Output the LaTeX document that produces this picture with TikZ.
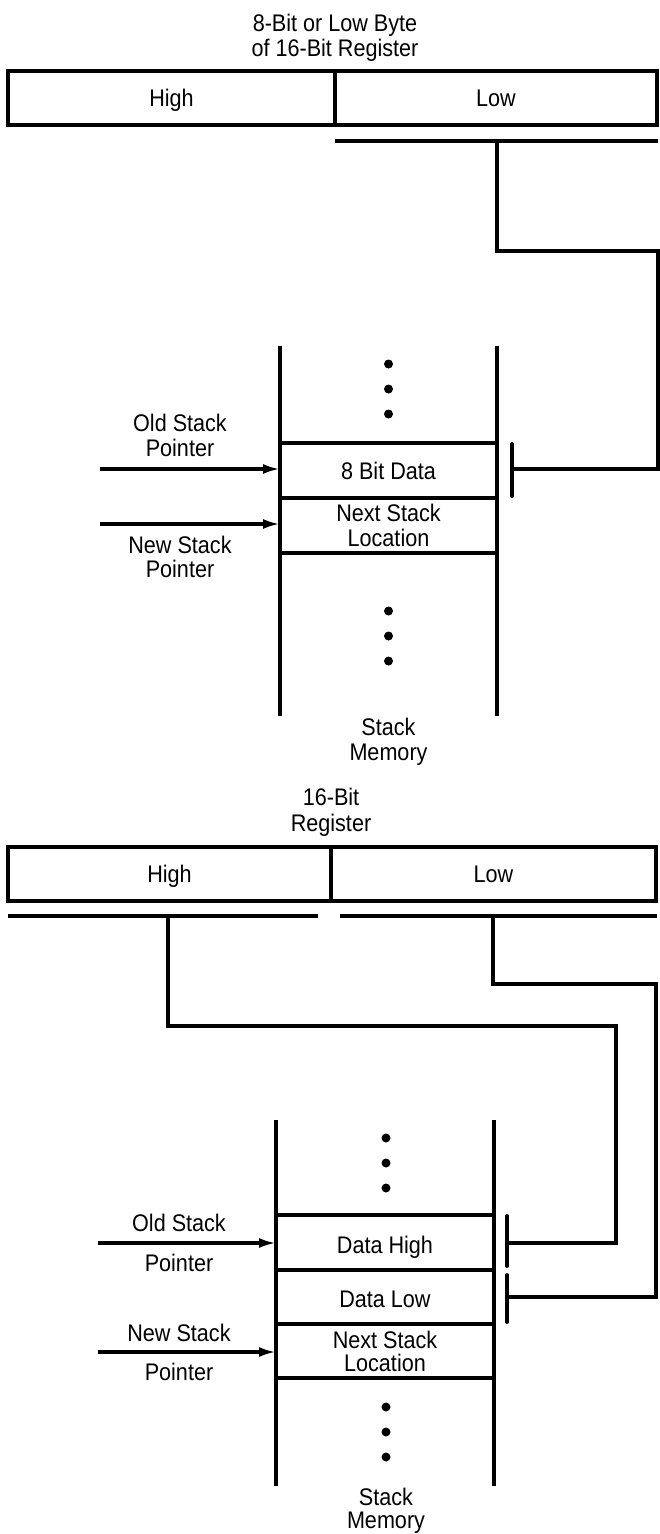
\documentclass[tikz,border=0pt]{standalone}
\usepackage{fontspec}
\setmainfont{Liberation Sans}[FakeStretch=0.9]
\usetikzlibrary{arrows.meta}
\tikzset{
  wire/.style={line width=3.2pt},
  reg/.style={draw, line width=3.2pt, inner sep=0pt, minimum height=54pt,
              text height=17.2pt, text depth=0pt, font=\fontsize{24}{25}\selectfont},
  lbl/.style={anchor=base, inner sep=0pt, font=\fontsize{24}{25}\selectfont},
  ptr/.style={line width=3.2pt, -{Latex[length=17pt,width=10pt]}},
  tbar/.style={line width=3.8pt, line cap=round},
  sdot/.style={circle, fill=black, inner sep=0pt, minimum size=9pt},
}
\begin{document}
\begin{tikzpicture}[x=1pt,y=-1pt]
\useasboundingbox (0,0) rectangle (660,1534);

% ================= upper diagram =================
\node[lbl] (tA1) at (335,31.5) {8-Bit or Low Byte};
\node[lbl] (tA2) at (335,56.5) {of 16-Bit Register};
\node[reg, minimum width=327pt] (hiA) at (171.5,98) {High};
\node[reg, minimum width=322pt] (loA) at (496,98) {Low};

\coordinate (busA1) at (335,141);
\coordinate (busA2) at (658,141);
\draw[wire] (busA1) -- (busA2);
\coordinate (tapA) at (497,141);
\coordinate (barA) at (512,469);
\draw[wire] (tapA) -- (497,251) -- (658,251) -- (658,469) -- (barA);
\draw[tbar] (512,444) -- (512,496);

% stack memory
\draw[wire] (280,346) -- (280,716);
\draw[wire] (497,346) -- (497,716);
\draw[wire] (280,443) -- (497,443);
\draw[wire] (280,498) -- (497,498);
\draw[wire] (280,553) -- (497,553);
\node[sdot] (dA1) at (388.5,364) {};
\node[sdot] (dA2) at (388.5,389) {};
\node[sdot] (dA3) at (388.5,414) {};
\node[sdot] (dA4) at (388.5,611) {};
\node[sdot] (dA5) at (388.5,636) {};
\node[sdot] (dA6) at (388.5,661) {};
\node[lbl] (cA1) at (388.5,479.5) {8 Bit Data};
\node[lbl] (cA2) at (388.5,521.5) {Next Stack};
\node[lbl] (cA3) at (388.5,546.5) {Location};
\node[lbl] (mA1) at (388.5,735.5) {Stack};
\node[lbl] (mA2) at (388.5,760.5) {Memory};

% pointers
\node[lbl] (oA1) at (180,431.5) {Old Stack};
\node[lbl] (oA2) at (180,456.5) {Pointer};
\node[lbl] (nA1) at (180,553.5) {New Stack};
\node[lbl] (nA2) at (180,577.5) {Pointer};
\coordinate (oAs) at (100,469);
\coordinate (oAt) at (280,469);
\coordinate (nAs) at (100,524);
\coordinate (nAt) at (280,524);
\draw[ptr] (oAs) -- (oAt);
\draw[ptr] (nAs) -- (nAt);

% ================= lower diagram =================
\node[lbl] (tB1) at (331,805.5) {16-Bit};
\node[lbl] (tB2) at (331,831.5) {Register};
\node[reg, minimum width=323pt] (hiB) at (169.5,874) {High};
\node[reg, minimum width=325pt] (loB) at (493.5,874) {Low};

\draw[wire] (8,916) -- (318,916);
\draw[wire] (340,916) -- (657,916);
\coordinate (tapH) at (168,916);
\coordinate (barH) at (508,1243);
\draw[wire] (tapH) -- (168,1026) -- (616,1026) -- (616,1243) -- (barH);
\coordinate (tapL) at (493,916);
\coordinate (barL) at (508,1297);
\draw[wire] (tapL) -- (493,984) -- (656,984) -- (656,1297) -- (barL);
\draw[tbar] (507,1216) -- (507,1266);
\draw[tbar] (507,1275) -- (507,1322);

% stack memory
\draw[wire] (276,1120) -- (276,1486);
\draw[wire] (494,1120) -- (494,1486);
\draw[wire] (276,1215) -- (494,1215);
\draw[wire] (276,1270) -- (494,1270);
\draw[wire] (276,1324) -- (494,1324);
\draw[wire] (276,1378) -- (494,1378);
\node[sdot] (dB1) at (386,1138) {};
\node[sdot] (dB2) at (386,1163) {};
\node[sdot] (dB3) at (386,1188) {};
\node[sdot] (dB4) at (386,1407) {};
\node[sdot] (dB5) at (386,1432) {};
\node[sdot] (dB6) at (386,1457) {};
\node[lbl] (cB1) at (385,1253.5) {Data High};
\node[lbl] (cB2) at (385,1307.5) {Data Low};
\node[lbl] (cB3) at (385,1348.5) {Next Stack};
\node[lbl] (cB4) at (385,1371.5) {Location};
\node[lbl] (mB1) at (386,1505.5) {Stack};
\node[lbl] (mB2) at (386,1528.5) {Memory};

% pointers
\node[lbl] (oB1) at (179,1231.5) {Old Stack};
\node[lbl] (oB2) at (179,1271.5) {Pointer};
\node[lbl] (nB1) at (179,1341.5) {New Stack};
\node[lbl] (nB2) at (179,1380.5) {Pointer};
\coordinate (oBs) at (98,1243);
\coordinate (oBt) at (276,1243);
\coordinate (nBs) at (98,1352);
\coordinate (nBt) at (276,1352);
\draw[ptr] (oBs) -- (oBt);
\draw[ptr] (nBs) -- (nBt);
\end{tikzpicture}
\end{document}
